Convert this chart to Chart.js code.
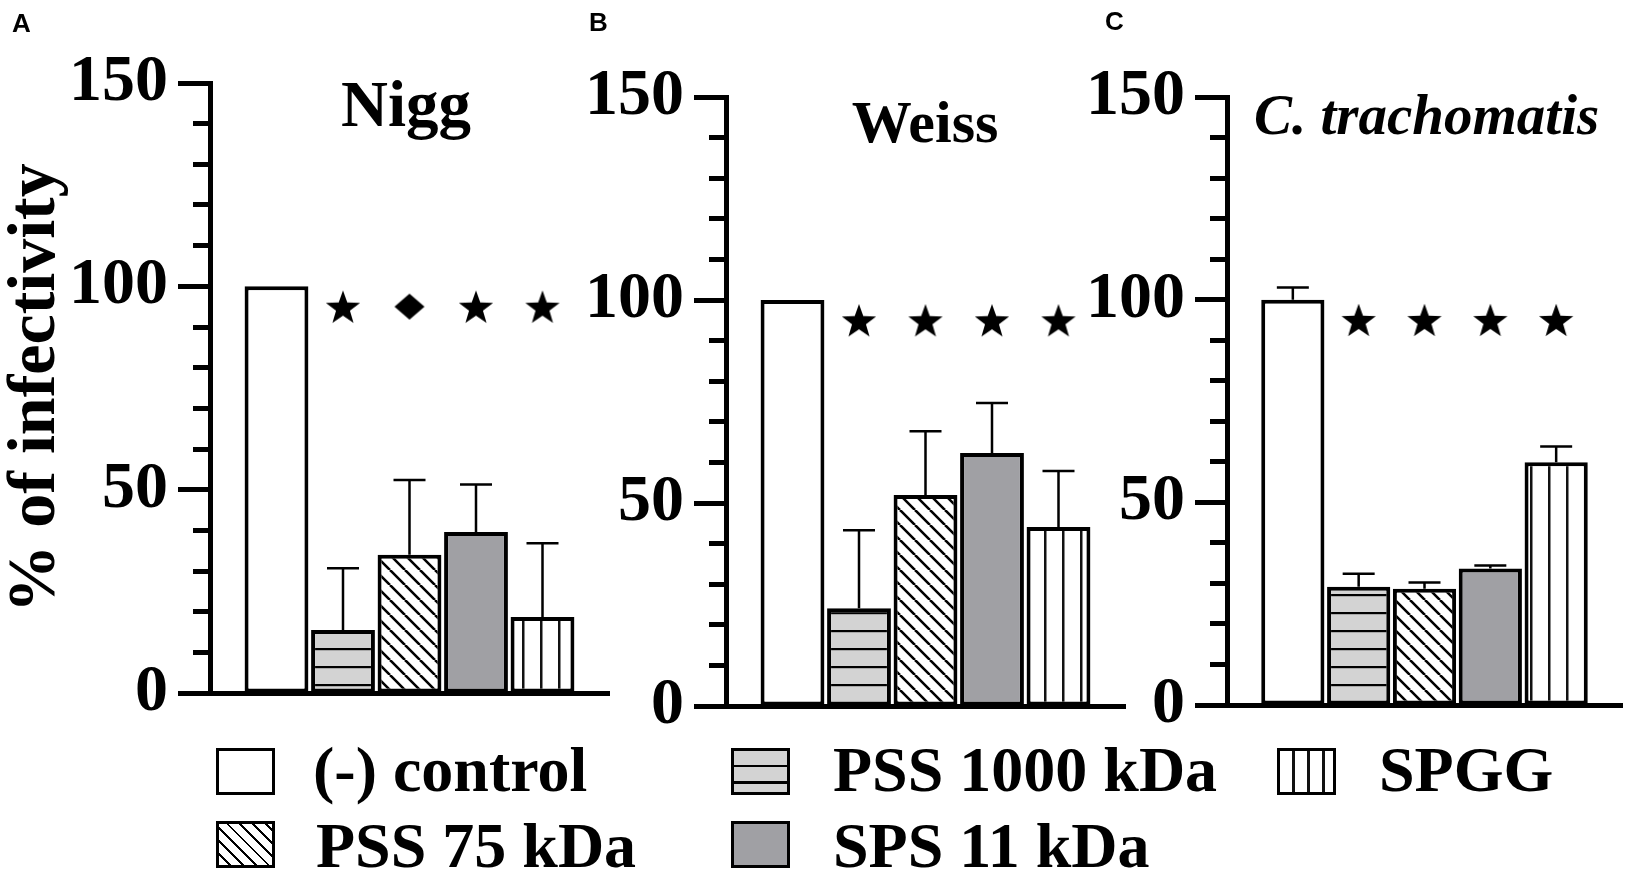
<!DOCTYPE html>
<html>
<head>
<meta charset="utf-8">
<title>% of infectivity</title>
<script src="https://cdn.jsdelivr.net/npm/chart.js@4.4.1/dist/chart.umd.min.js"></script>
<style>
  body { margin: 0; background: #fff; }
  #wrap { position: relative; width: 1633px; height: 879px; overflow: hidden; background: #fff; }
  #wrap canvas { position: absolute; left: 0; top: 0; }
  .txt { position: absolute; font-family: 'Liberation Serif', 'Times New Roman', serif; font-weight: bold; color: #000; line-height: 1; white-space: nowrap; }
  .letter { position: absolute; font-family: 'Liberation Sans', Arial, sans-serif; font-weight: bold; font-size: 26px; line-height: 1; color: #000; }
  .box { position: absolute; box-sizing: border-box; border: 3px solid #000; width: 59px; height: 47px; }
</style>
</head>
<body>
<div id="wrap">
  <canvas id="chartA" width="1633" height="879"></canvas>
  <canvas id="chartB" width="1633" height="879"></canvas>
  <canvas id="chartC" width="1633" height="879"></canvas>
</div>
<script>
// categories (same in the three panels)
const categories = ['(-) control', 'PSS 1000 kDa', 'PSS 75 kDa', 'SPS 11 kDa', 'SPGG'];
const panelTitles = ['Nigg', 'Weiss', 'C. trachomatis'];
const panelLetters = ['A', 'B', 'C'];

// % of infectivity, mean and upper error
const niggMean = [100, 15.5, 34, 39.6, 18.7];
const niggErr = [0, 15.2, 18.4, 11.7, 18.1];
const weissMean = [100, 24.1, 52, 62.3, 44.1];
const weissErr = [0, 19.2, 15.7, 12.3, 13.8];
const trachMean = [100, 29.2, 28.7, 33.7, 59.9];
const trachErr = [3, 3.2, 1.5, 0.7, 3.9];

// significance marks above the bars
const niggMarks = ['', 'star', 'diamond', 'star', 'star'];
const weissMarks = ['', 'star', 'star', 'star', 'star'];
const trachMarks = ['', 'star', 'star', 'star', 'star'];
const markLevel = 95;

// y axis
const yMin = 0;
const yMax = 150;
const yStep = 10;
const yLabelEvery = 50;

const W = 1633, H = 879;

// fills for the bars
function makeTile(w, h, draw) {
  const c = document.createElement('canvas');
  c.width = w; c.height = h;
  draw(c.getContext('2d'), w, h);
  return c.getContext('2d').createPattern(c, 'repeat');
}

const fills = [
  '#ffffff',
  makeTile(18, 18, (g, w, h) => {          // light gray + horizontal lines
    g.fillStyle = '#d3d3d3'; g.fillRect(0, 0, w, h);
    g.fillStyle = '#000'; g.fillRect(0, 0, w, 2.2);
  }),
  makeTile(15, 15, (g, w, h) => {          // diagonal hatch
    g.fillStyle = '#fff'; g.fillRect(0, 0, w, h);
    g.strokeStyle = '#000'; g.lineWidth = 2.6;
    g.beginPath();
    for (let k = -1; k <= 1; k++) {
      g.moveTo(k * w, 0);
      g.lineTo(k * w + w, h);
    }
    g.stroke();
  }),
  '#a0a0a4',
  makeTile(18, 18, (g, w, h) => {          // vertical lines
    g.fillStyle = '#fff'; g.fillRect(0, 0, w, h);
    g.fillStyle = '#111'; g.fillRect(0, 0, 2.5, h);
  })
];

// css versions for the legend swatches
const legendFills = [
  '#fff',
  'repeating-linear-gradient(to bottom, #d3d3d3 0 14px, #000 14px 16.5px)',
  'repeating-linear-gradient(45deg, #fff 0 7px, #000 7px 9px)',
  '#a0a0a4',
  'repeating-linear-gradient(to right, #fff 0 12.5px, #111 12.5px 15px)'
];

function markImage(kind) {
  const c = document.createElement('canvas');
  const g = c.getContext('2d');
  g.fillStyle = '#000';
  if (kind === 'star') {
    const R = 18, r = 7.3;
    c.width = 38; c.height = 36;
    g.translate(19, 18 + R * 0.095);
    g.beginPath();
    for (let i = 0; i < 10; i++) {
      const a = -Math.PI / 2 + i * Math.PI / 5;
      const rr = i % 2 === 0 ? R : r;
      g.lineTo(Math.cos(a) * rr, Math.sin(a) * rr);
    }
    g.closePath();
    g.fill();
  } else {
    c.width = 32; c.height = 28;
    g.translate(16, 14);
    g.beginPath();
    g.moveTo(0, -13); g.lineTo(15, 0); g.lineTo(0, 13); g.lineTo(-15, 0);
    g.closePath();
    g.fill();
  }
  return c;
}
const markImages = { star: markImage('star'), diamond: markImage('diamond') };

// error bars: upward only, drawn with the chart's own y scale
const errorBars = {
  id: 'errorBars',
  afterDatasetsDraw(chart) {
    const ctx = chart.ctx;
    const ds = chart.data.datasets[0];
    const meta = chart.getDatasetMeta(0);
    const y = chart.scales.y;
    ctx.save();
    ctx.strokeStyle = '#000';
    ctx.lineWidth = 2.5;
    meta.data.forEach((bar, i) => {
      const e = ds.errors[i];
      if (!e) return;
      const top = y.getPixelForValue(ds.data[i].y + e);
      ctx.beginPath();
      ctx.moveTo(bar.x, bar.y);
      ctx.lineTo(bar.x, top);
      ctx.moveTo(bar.x - 16, top);
      ctx.lineTo(bar.x + 16, top);
      ctx.stroke();
    });
    ctx.restore();
  }
};

const panels = [
  { id: 'chartA', mean: niggMean, err: niggErr, marks: niggMarks, yTitle: true,  axisW: 210, left: 210,  right: 609,  top: 83, bottom: 693 },
  { id: 'chartB', mean: weissMean, err: weissErr, marks: weissMarks, yTitle: false, axisW: 160, left: 726,  right: 1125, top: 97, bottom: 706 },
  { id: 'chartC', mean: trachMean, err: trachErr, marks: trachMarks, yTitle: false, axisW: 160, left: 1227, right: 1624, top: 97, bottom: 705 }
];

panels.forEach(p => {
  const markData = [];
  const markStyle = [];
  p.marks.forEach((m, i) => {
    if (m) {
      markData.push({ x: i + 1, y: markLevel });
      markStyle.push(markImages[m]);
    }
  });

  new Chart(document.getElementById(p.id), {
    type: 'bar',
    data: {
      datasets: [
        {
          type: 'bar',
          label: 'infectivity',
          data: p.mean.map((v, i) => ({ x: i + 1, y: v })),
          errors: p.err,
          backgroundColor: fills,
          borderColor: '#000',
          borderWidth: 4,
          borderSkipped: false,
          barPercentage: 0.96,
          categoryPercentage: 1
        },
        {
          type: 'line',
          label: 'marks',
          data: markData,
          showLine: false,
          pointStyle: markStyle,
          pointRadius: 10
        }
      ]
    },
    options: {
      responsive: false,
      animation: false,
      events: [],
      layout: {
        padding: { left: p.left - p.axisW, right: W - p.right, top: p.top, bottom: H - p.bottom }
      },
      plugins: {
        legend: { display: false },
        tooltip: { enabled: false }
      },
      scales: {
        x: {
          type: 'linear',
          offset: false,
          min: 0,
          max: 6,
          ticks: { display: false, stepSize: 1 },
          grid: { display: false, drawTicks: false, offset: false },
          border: { display: true, color: '#000', width: 5 },
          afterFit: s => { s.height = 0; }
        },
        y: {
          min: yMin,
          max: yMax,
          ticks: {
            stepSize: yStep,
            autoSkip: false,
            padding: 10,
            color: '#000',
            font: { family: 'Liberation Serif', weight: 'bold', size: 66, lineHeight: 1 },
            callback: v => (v % yLabelEvery === 0 ? v : '')
          },
          grid: {
            drawOnChartArea: false,
            drawTicks: true,
            tickLength: 32,
            tickWidth: 5,
            tickColor: '#000',
            tickBorderDash: ctx => (ctx.tick && ctx.tick.value % yLabelEvery !== 0 ? [0, 15, 40] : [])
          },
          border: { color: '#000', width: 5 },
          title: {
            display: p.yTitle,
            text: '% of infectivity',
            color: '#000',
            font: { family: 'Liberation Serif', weight: 'bold', size: 68, lineHeight: 1 },
            padding: { top: 2, bottom: 0 }
          },
          afterFit: s => { s.width = p.axisW; }
        }
      }
    },
    plugins: [errorBars]
  });
});

// panel letters and titles
const wrap = document.getElementById('wrap');
function addText(cls, text, css) {
  const d = document.createElement('div');
  d.className = cls;
  d.textContent = text;
  Object.assign(d.style, css);
  wrap.appendChild(d);
  return d;
}
const letterPos = [[12, 10], [589, 9], [1105, 8]];
panelLetters.forEach((l, i) => addText('letter', l, { left: letterPos[i][0] + 'px', top: letterPos[i][1] + 'px' }));

addText('txt', panelTitles[0], { left: '256px', width: '300px', textAlign: 'center', top: '72px', fontSize: '65px' });
addText('txt', panelTitles[1], { left: '775px', width: '300px', textAlign: 'center', top: '92px', fontSize: '60px' });
addText('txt', panelTitles[2], { left: '1254px', top: '86px', fontSize: '57px', fontStyle: 'italic' });

// legend (HTML), order: control, PSS 1000, SPGG / PSS 75, SPS 11
const legendSlots = [
  { box: [216, 748], text: [313, 738] },
  { box: [731, 748], text: [833, 738] },
  { box: [216, 821], text: [316, 814] },
  { box: [731, 821], text: [833, 814] },
  { box: [1277, 748], text: [1379, 738] }
];
categories.forEach((c, i) => {
  const s = legendSlots[i];
  const b = document.createElement('div');
  b.className = 'box';
  b.style.left = s.box[0] + 'px';
  b.style.top = s.box[1] + 'px';
  b.style.background = legendFills[i];
  wrap.appendChild(b);
  addText('txt', c, { left: s.text[0] + 'px', top: s.text[1] + 'px', fontSize: '64px' });
});
</script>
</body>
</html>
